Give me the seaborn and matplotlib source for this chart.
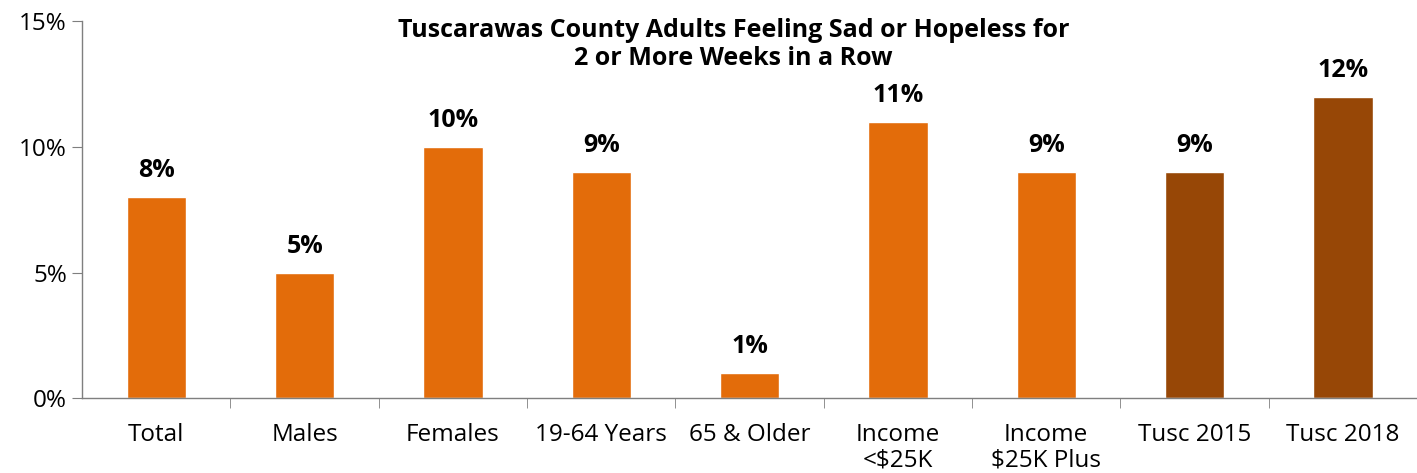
import numpy as np
import pandas as pd
import matplotlib
matplotlib.use("Agg")
import matplotlib.pyplot as plt
import seaborn as sns

# ---------------------------------------------------------------
# Chart data
# ---------------------------------------------------------------
categories = ["Total", "Males", "Females", "19-64 Years", "65 & Older",
              "Income\n<$25K", "Income\n$25K Plus", "Tusc 2015", "Tusc 2018"]
values = [8, 5, 10, 9, 1, 11, 9, 9, 12]
y_ticks = [0, 5, 10, 15]
title = "Tuscarawas County Adults Feeling Sad or Hopeless for\n2 or More Weeks in a Row"

ORANGE = "#E36C0A"
BROWN = "#974706"
bar_colors = [ORANGE] * 7 + [BROWN, BROWN]


def main():
    sns.set_style("white")
    plt.rcParams["font.family"] = ["Open Sans", "DejaVu Sans"]
    plt.rcParams["text.color"] = "black"
    plt.rcParams["xtick.labelcolor"] = "black"
    plt.rcParams["ytick.labelcolor"] = "black"

    df = pd.DataFrame({"category": categories, "value": values})

    fig, ax = plt.subplots(figsize=(14.17, 4.73), dpi=100)
    fig.subplots_adjust(left=0.058, right=1.0, top=0.955, bottom=0.158)

    sns.barplot(data=df, x="category", y="value", hue="category",
                palette=bar_colors, width=0.4, legend=False, ax=ax,
                saturation=1)

    for i, v in enumerate(values):
        ax.text(i, v + 0.55, f"{v}%", ha="center", va="bottom",
                fontsize=18, fontweight="bold", color="black")

    ax.set_ylim(0, 15)
    ax.set_xlim(-0.5, len(categories) - 0.5)
    ax.set_yticks(y_ticks)
    ax.set_yticklabels([f"{t}%" for t in y_ticks], fontsize=17.5)
    ax.set_xticks(range(len(categories)))
    ax.set_xticklabels(categories, fontsize=17.5, linespacing=1.05)
    ax.tick_params(axis="x", length=0, pad=18, labelcolor="black")
    ax.set_xticks(np.arange(0.5, len(categories) - 0.5, 1), minor=True)
    ax.tick_params(axis="x", which="minor", length=7, color="#7f7f7f",
                   direction="out", bottom=True)
    ax.tick_params(axis="y", length=7, color="#7f7f7f", direction="out",
                   left=True, pad=4, labelcolor="black")
    ax.set_xlabel("")
    ax.set_ylabel("")

    for side in ["top", "right"]:
        ax.spines[side].set_visible(False)
    for side in ["left", "bottom"]:
        ax.spines[side].set_color("#7f7f7f")
        ax.spines[side].set_linewidth(1.0)

    ax.text(0.488, 1.01, title, transform=ax.transAxes, ha="center", va="top",
            fontsize=18, fontweight="bold", linespacing=1.2, color="black")

    plt.savefig("out.png", dpi=100)


if __name__ == "__main__":
    main()
